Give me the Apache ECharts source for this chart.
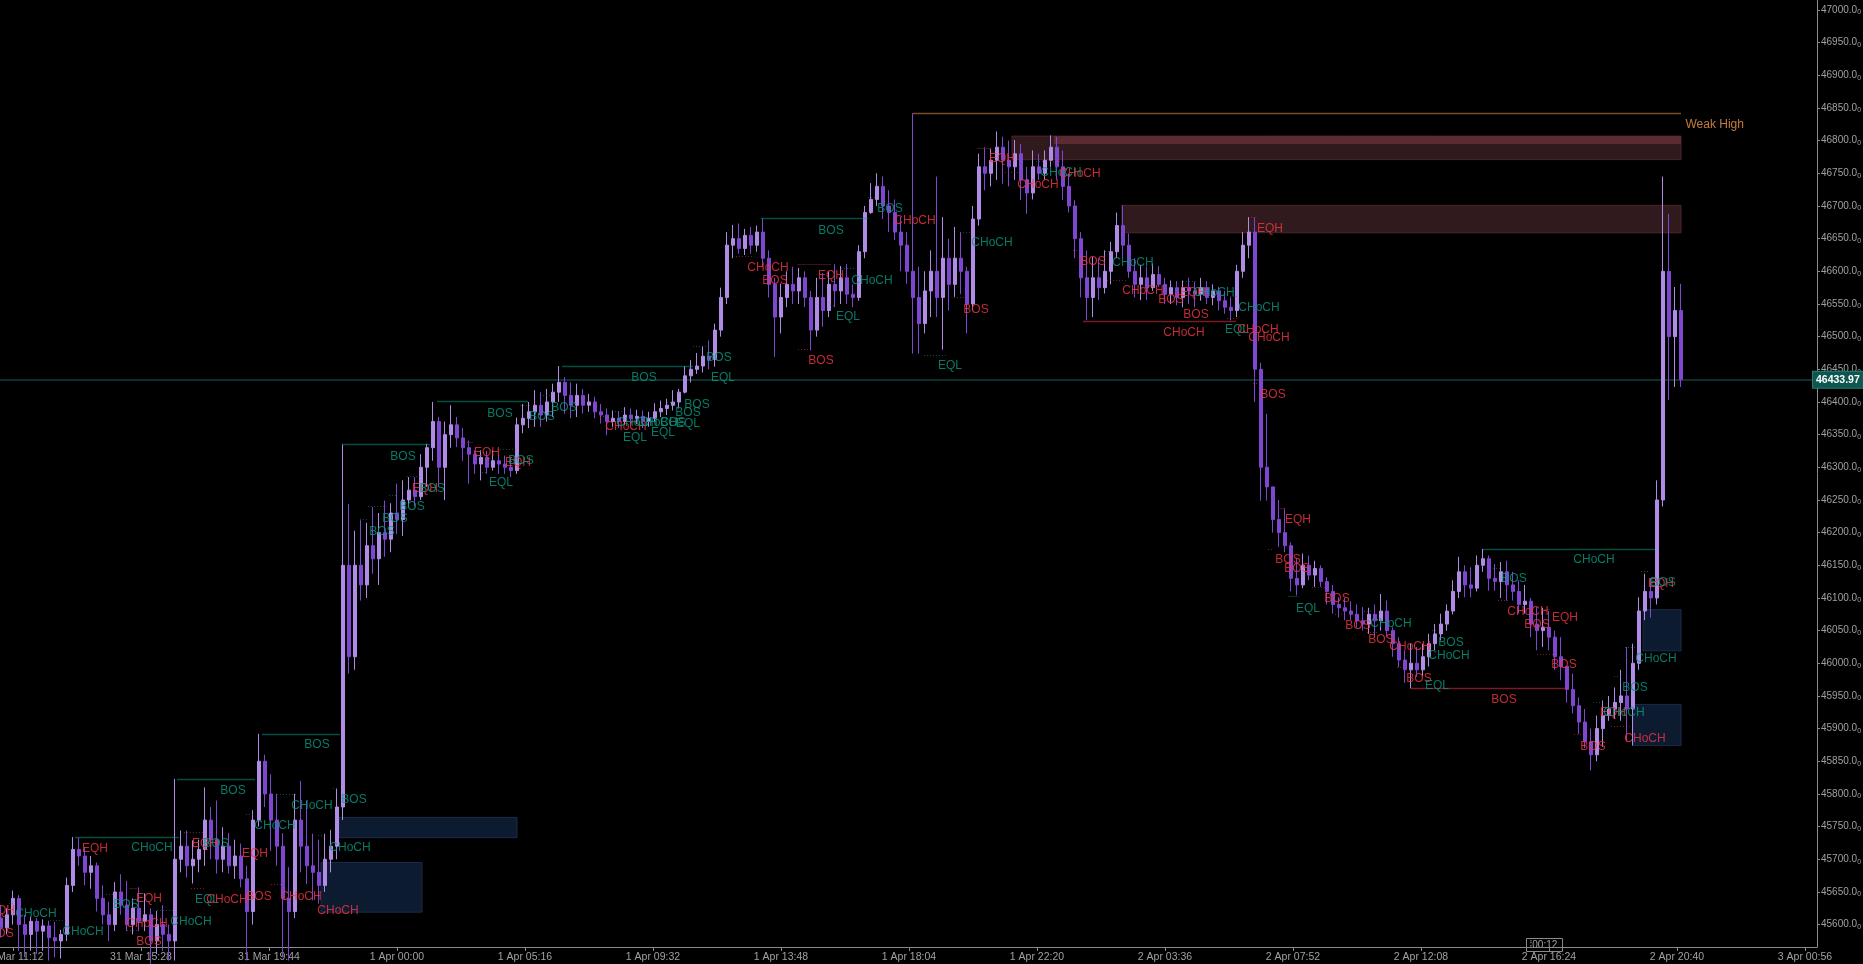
<!DOCTYPE html>
<html><head><meta charset="utf-8">
<script src="https://cdn.jsdelivr.net/npm/echarts@6/dist/echarts.min.js"></script>
<style>html,body{margin:0;padding:0;background:#000;}#c{width:1863px;height:964px;}</style>
</head><body><div id="c"></div>
<script>
// ---------- DATA ----------
const timeTickLabels = ['31 Mar 11:12','31 Mar 15:28','31 Mar 19:44','1 Apr 00:00','1 Apr 05:16','1 Apr 09:32','1 Apr 13:48','1 Apr 18:04','1 Apr 22:20','2 Apr 03:36','2 Apr 07:52','2 Apr 12:08','2 Apr 16:24','2 Apr 20:40','3 Apr 00:56'];
const timeTickStepMinutes = 256;           // minutes between time labels (from 31 Mar 11:12)
const priceTicks = [45600,45650,45700,45750,45800,45850,45900,45950,46000,46050,46100,46150,46200,46250,46300,46350,46400,46450,46500,46550,46600,46650,46700,46750,46800,46850,46900,46950,47000];
const barStartMinute = -24, barStepMinutes = 12; // bar times in minutes from 31 Mar 11:12
const lastPrice = 46433.97;
// candles: [open, close, low, high]
const candles = [
[45610,45595,45580,45630],[45595,45615,45585,45625],[45615,45640,45600,45652],[45640,45600,45560,45645],[45600,45585,45550,45615],
[45585,45605,45560,45612],[45605,45590,45555,45610],[45590,45598,45560,45608],[45598,45580,45545,45606],[45580,45575,45550,45604],
[45575,45585,45548,45592],[45585,45660,45575,45672],[45660,45715,45650,45734],[45715,45705,45690,45733],[45705,45680,45660,45718],
[45680,45690,45655,45705],[45690,45640,45620,45695],[45640,45615,45600,45660],[45615,45600,45575,45635],[45600,45650,45590,45665],
[45650,45630,45615,45677],[45630,45600,45590,45667],[45600,45625,45585,45640],[45625,45605,45590,45657],[45605,45615,45590,45648],
[45615,45575,45540,45625],[45575,45600,45555,45621],[45600,45585,45560,45630],[45585,45575,45545,45600],[45575,45700,45545,45823],
[45700,45720,45680,45744],[45720,45690,45672,45744],[45690,45700,45663,45729],[45700,45715,45680,45730],[45715,45760,45690,45810],
[45760,45730,45700,45780],[45730,45700,45678,45790],[45700,45720,45680,45749],[45720,45690,45678,45740],[45690,45705,45670,45730],
[45705,45670,45657,45724],[45670,45620,45545,45690],[45620,45760,45600,45775],[45760,45850,45750,45892],[45850,45800,45780,45860],
[45800,45760,45713,45830],[45760,45720,45690,45800],[45720,45640,45550,45740],[45640,45620,45545,45688],[45620,45760,45610,45800],
[45760,45720,45680,45820],[45720,45690,45662,45790],[45690,45680,45637,45739],[45680,45660,45632,45730],[45660,45700,45650,45739],
[45700,45720,45680,45745],[45720,45780,45700,45808],[45780,46150,45760,46335],[46150,46010,45984,46244],[46010,46150,45990,46203],
[46150,46120,46096,46219],[46120,46180,46100,46215],[46180,46160,46137,46239],[46160,46200,46120,46230],[46200,46190,46163,46249],
[46190,46230,46170,46245],[46230,46220,46198,46275],[46220,46250,46195,46280],[46250,46265,46239,46285],[46265,46255,46240,46285],
[46255,46300,46250,46320],[46300,46330,46270,46336],[46330,46370,46310,46400],[46370,46300,46270,46377],[46300,46350,46250,46370],
[46350,46365,46330,46395],[46365,46345,46331,46377],[46345,46330,46310,46360],[46330,46320,46275,46341],[46320,46305,46290,46326],
[46305,46315,46280,46326],[46315,46300,46290,46325],[46300,46310,46295,46326],[46310,46305,46290,46320],[46305,46300,46290,46318],
[46300,46295,46285,46315],[46295,46365,46290,46376],[46365,46375,46352,46397],[46375,46385,46360,46400],[46385,46395,46362,46418],
[46395,46380,46362,46415],[46380,46400,46370,46420],[46400,46415,46377,46428],[46415,46430,46400,46455],[46430,46410,46382,46438],
[46410,46395,46375,46430],[46395,46410,46377,46428],[46410,46395,46382,46420],[46395,46400,46385,46412],[46400,46385,46375,46408],
[46385,46380,46367,46397],[46380,46370,46349,46390],[46370,46375,46362,46387],[46375,46370,46360,46386],[46370,46380,46365,46392],
[46380,46375,46365,46390],[46375,46378,46366,46388],[46378,46370,46360,46387],[46370,46375,46362,46385],[46375,46385,46370,46398],
[46385,46390,46377,46402],[46390,46395,46380,46405],[46395,46400,46387,46418],[46400,46415,46390,46420],[46415,46440,46413,46455],
[46440,46450,46430,46464],[46450,46455,46443,46475],[46455,46470,46445,46485],[46470,46465,46450,46494],[46465,46510,46454,46520],
[46510,46560,46500,46575],[46560,46640,46550,46660],[46640,46650,46620,46671],[46650,46635,46627,46673],[46635,46655,46625,46665],
[46655,46640,46627,46668],[46640,46660,46630,46670],[46660,46620,46607,46681],[46620,46580,46560,46632],[46580,46530,46469,46590],
[46530,46560,46505,46581],[46560,46580,46545,46600],[46580,46570,46550,46607],[46570,46590,46550,46605],[46590,46560,46545,46600],
[46560,46510,46479,46570],[46510,46560,46500,46590],[46560,46540,46515,46597],[46540,46580,46530,46600],[46580,46570,46545,46611],
[46570,46590,46550,46608],[46590,46565,46550,46611],[46565,46560,46545,46580],[46560,46630,46555,46640],[46630,46690,46620,46700],
[46690,46710,46688,46735],[46710,46730,46700,46750],[46730,46700,46680,46745],[46700,46690,46660,46724],[46690,46660,46648,46710],
[46660,46640,46600,46683],[46640,46600,46581,46660],[46600,46560,46474,46842],[46560,46520,46474,46607],[46520,46570,46505,46600],
[46570,46600,46530,46632],[46600,46560,46530,46745],[46560,46620,46480,46683],[46620,46580,46540,46650],[46580,46620,46561,46668],
[46620,46600,46565,46660],[46600,46550,46505,46607],[46550,46680,46540,46700],[46680,46760,46670,46780],[46760,46750,46724,46790],
[46750,46770,46730,46788],[46770,46790,46740,46814],[46790,46770,46734,46806],[46770,46760,46730,46800],[46760,46780,46740,46801],
[46780,46740,46709,46795],[46740,46720,46688,46760],[46720,46760,46710,46785],[46760,46750,46740,46780],[46750,46770,46740,46785],
[46770,46790,46760,46808],[46790,46760,46740,46806],[46760,46730,46709,46785],[46730,46700,46690,46750],[46700,46650,46620,46709],
[46650,46590,46560,46660],[46590,46560,46525,46632],[46560,46590,46530,46622],[46590,46575,46556,46620],[46575,46600,46566,46632],
[46600,46630,46580,46645],[46630,46670,46620,46690],[46670,46640,46620,46701],[46640,46600,46590,46658],[46600,46580,46560,46620],
[46580,46590,46556,46610],[46590,46575,46556,46607],[46575,46595,46570,46612],[46595,46580,46576,46608],[46580,46565,46550,46590],
[46565,46575,46550,46586],[46575,46560,46548,46585],[46560,46575,46545,46586],[46575,46570,46550,46590],[46570,46565,46545,46584],
[46565,46575,46555,46590],[46575,46560,46550,46585],[46560,46570,46548,46580],[46570,46555,46540,46576],[46555,46545,46535,46570],
[46545,46540,46525,46560],[46540,46600,46530,46610],[46600,46640,46590,46660],[46640,46660,46620,46683],[46660,46450,46400,46683],
[46450,46300,46249,46460],[46300,46270,46249,46382],[46270,46220,46200,46265],[46220,46200,46178,46250],[46200,46180,46170,46237],
[46180,46130,46110,46185],[46130,46120,46104,46160],[46120,46150,46115,46168],[46150,46135,46127,46165],[46135,46145,46117,46157],
[46145,46125,46117,46150],[46125,46110,46090,46132],[46110,46090,46076,46120],[46090,46085,46070,46101],[46085,46080,46066,46100],
[46080,46075,46066,46095],[46075,46065,46055,46090],[46065,46060,46050,46086],[46060,46075,46045,46085],[46075,46065,46040,46090],
[46065,46080,46050,46106],[46080,46050,46040,46096],[46050,46030,46010,46055],[46030,46005,45994,46040],[46005,45990,45970,46020],
[45990,46000,45962,46030],[46000,45990,45979,46025],[45990,46010,45980,46030],[46010,46030,45995,46045],[46030,46045,46020,46060],
[46045,46060,46035,46076],[46060,46080,46050,46090],[46080,46110,46075,46127],[46110,46140,46100,46163],[46140,46120,46101,46150],
[46120,46115,46101,46147],[46115,46150,46110,46165],[46150,46160,46140,46175],[46160,46130,46111,46165],[46130,46125,46111,46152],
[46125,46140,46100,46155],[46140,46120,46096,46157],[46120,46110,46096,46140],[46110,46090,46076,46127],[46090,46095,46076,46120],
[46095,46060,46040,46100],[46060,46050,46020,46086],[46050,46055,46025,46085],[46055,46040,46020,46080],[46040,46010,45990,46050],
[46010,45995,45974,46040],[45995,45960,45940,45995],[45960,45935,45923,45984],[45935,45910,45892,45948],[45910,45880,45870,45930],
[45880,45860,45836,45900],[45860,45900,45850,45920],[45900,45920,45872,45943],[45920,45930,45912,45950],[45930,45940,45915,45963],
[45940,45950,45912,45990],[45950,45930,45880,46025],[45930,46000,45874,46030],[46000,46080,45990,46101],[46080,46110,46066,46137],
[46110,46100,46070,46130],[46100,46250,46090,46280],[46250,46600,46240,46745],[46600,46500,46403,46688],[46500,46540,46423,46576],
[46540,46434,46423,46581]
];
// swing structure lines: [fromMinute, toMinute, price, side]
const swingLines = [
[124,332,45734,'bull'],[328,484,45823,'bull'],[498,654,45892,'bull'],[658,834,46335,'bull'],
[848,1030,46401,'bull'],[1098,1360,46455,'bull'],[1496,1710,46681,'bull'],[2940,3284,46175,'bull'],
[2140,2446,46524,'bear'],[2794,3106,45962,'bear']
];
const weakHigh = [1800,3336,46842];
// internal structure / equal highs-lows: [fromMinute, toMinute, price, kind]
const internalLines = [
[-8,2,45633,'bull'],[74,106,45606,'bull'],[186,202,45647,'bull'],[288,324,45622,'bull'],[466,484,45769,'bull'],
[528,570,45800,'bull'],[610,628,45736,'bull'],[640,652,45808,'bull'],[694,710,46220,'bull'],[710,750,46240,'bull'],
[752,770,46257,'bull'],[788,818,46286,'bull'],[968,1008,46327,'bull'],[938,950,46293,'bull'],[1014,1034,46395,'bull'],
[1060,1074,46410,'bull'],[1204,1220,46386,'bull'],[1280,1298,46386,'bull'],[1308,1324,46400,'bull'],[1328,1338,46413,'bull'],
[1360,1396,46485,'bull'],[1710,1728,46713,'bull'],[1634,1646,46548,'bull'],[1656,1682,46604,'bull'],[1822,1866,46472,'bull'],
[1900,1914,46660,'bull'],[2046,2060,46768,'bull'],[2184,2200,46630,'bull'],[2340,2368,46585,'bull'],[2434,2450,46562,'bull'],
[2702,2716,46079,'bull'],[2838,2848,46050,'bull'],[2954,2978,46146,'bull'],[3160,3182,45941,'bull'],[3202,3220,45980,'bull'],
[3224,3244,46024,'bull'],[3256,3272,46141,'bull'],
[228,248,45591,'bear'],[342,382,45742,'bear'],[356,384,45656,'bear'],[516,538,45661,'bear'],[1174,1188,46378,'bear'],
[1446,1478,46623,'bear'],[1570,1600,46480,'bear'],[1882,1902,46560,'bear'],[1984,2016,46751,'bear'],[2074,2096,46768,'bear'],
[2120,2130,46632,'bear'],[2188,2230,46587,'bear'],[2428,2448,46528,'bear'],[2480,2490,46428,'bear'],[2510,2522,46175,'bear'],
[2598,2632,46116,'bear'],[2644,2668,46075,'bear'],[2708,2728,46048,'bear'],[2768,2788,45994,'bear'],[2970,2994,46096,'bear'],
[3048,3090,46014,'bear'],[3122,3138,45891,'bear'],[3196,3236,45903,'bear'],
[232,248,45656,'eqh'],[908,920,46339,'eqh'],[1568,1636,46611,'eqh'],[1928,1956,46788,'eqh'],[2474,2488,46683,'eqh'],
[2530,2542,46237,'eqh'],[3062,3074,46083,'eqh'],[2550,2570,46103,'eql']
];
// order-block zones: [fromMinute, toMinute, top, bottom, kind]
const zones = [
[652,1008,45764,45733,'demand'],[616,818,45695,45619,'demand'],
[1998,3336,46807,46771,'supply'],[2082,3336,46807,46795,'supplyStrong'],[2218,3336,46701,46659,'supply'],
[3260,3336,46082,46019,'demand'],[3240,3336,45937,45874,'demand']
];
// structure labels: [minute, price, text, side]
const structureLabels = [
[164,45716,'EQH','bear'],[278,45717,'CHoCH','bull'],[-22,45621,'EQH','bear'],[46,45616,'CHoCH','bull'],[-24,45586,'BOS','bear'],
[140,45589,'CHoCH','bull'],[226,45631,'BOS','bull'],[272,45639,'EQH','bear'],[268,45601,'CHoCH','bear'],[272,45574,'BOS','bear'],
[356,45605,'CHoCH','bull'],[440,45805,'BOS','bull'],[384,45724,'EQH','bear'],[406,45724,'BOS','bull'],[484,45709,'EQH','bear'],
[524,45752,'CHoCH','bull'],[388,45638,'EQL','bull'],[428,45638,'CHoCH','bear'],[492,45642,'BOS','bear'],[576,45643,'CHoCH','bear'],
[608,45875,'BOS','bull'],[598,45782,'CHoCH','bull'],[682,45791,'BOS','bull'],[674,45718,'CHoCH','bull'],[650,45622,'CHoCH','bear'],
[780,46317,'BOS','bull'],[974,46382,'BOS','bull'],[1262,46437,'BOS','bull'],[1420,46437,'EQL','bull'],[1412,46468,'BOS','bull'],
[948,46322,'EQH','bear'],[976,46276,'EQL','bull'],[1010,46307,'EQH','bear'],[1016,46310,'BOS','bull'],[824,46268,'EQH','bear'],
[838,46268,'BOS','bull'],[798,46239,'BOS','bull'],[764,46222,'BOS','bull'],[738,46202,'BOS','bull'],[1058,46377,'BOS','bull'],
[1102,46392,'BOS','bull'],[1226,46362,'CHoCH','bear'],[1248,46369,'CHoCH','bull'],[1244,46345,'EQL','bull'],[1288,46369,'CHoCH','bull'],
[1320,46369,'BOS','bull'],[1300,46353,'EQL','bull'],[1350,46383,'BOS','bull'],[1350,46367,'EQL','bull'],[1368,46396,'BOS','bull'],
[1636,46662,'BOS','bull'],[1510,46606,'CHoCH','bear'],[1524,46586,'BOS','bear'],[1636,46593,'EQH','bear'],[1718,46586,'CHoCH','bull'],
[1670,46530,'EQL','bull'],[1616,46463,'BOS','bear'],[1754,46696,'BOS','bull'],[1804,46677,'CHoCH','bear'],[1874,46455,'EQL','bull'],
[1958,46644,'CHoCH','bull'],[1926,46542,'BOS','bear'],[1978,46772,'EQH','bear'],[2050,46732,'CHoCH','bear'],[2096,46751,'CHoCH','bull'],
[2134,46750,'CHoCH','bear'],[2160,46614,'BOS','bear'],[2240,46613,'CHoCH','bull'],[2260,46570,'CHoCH','bear'],[2316,46556,'BOS','bear'],
[2360,46567,'EQH','bear'],[2402,46568,'CHoCH','bull'],[2366,46534,'BOS','bear'],[2342,46506,'CHoCH','bear'],[2492,46544,'CHoCH','bull'],
[2448,46511,'EQL','bull'],[2490,46511,'CHoCH','bear'],[2512,46498,'CHoCH','bear'],[2514,46666,'EQH','bear'],[2520,46411,'BOS','bear'],
[2570,46220,'EQH','bear'],[2550,46158,'BOS','bear'],[2568,46145,'BOS','bear'],[2590,46084,'EQL','bull'],[2648,46099,'BOS','bear'],
[2690,46057,'BOS','bear'],[2756,46060,'CHoCH','bull'],[2736,46036,'BOS','bear'],[2794,46026,'CHoCH','bear'],[2876,46032,'BOS','bull'],
[2872,46011,'CHoCH','bull'],[2812,45976,'BOS','bear'],[2848,45965,'EQL','bull'],[2982,45945,'BOS','bear'],[3162,46158,'CHoCH','bull'],
[3002,46129,'BOS','bull'],[3030,46079,'CHoCH','bear'],[3048,46059,'BOS','bear'],[3104,46070,'EQH','bear'],[3102,45998,'BOS','bear'],
[3160,45873,'BOS','bear'],[3200,45924,'EQH','bear'],[3222,45924,'CHoCH','bull'],[3244,45963,'BOS','bull'],[3286,46007,'CHoCH','bull'],
[3264,45884,'CHoCH','bear'],[3296,46122,'EQH','bear'],[3300,46123,'BOS','bull']
];

// ---------- STYLE ----------
const TEAL = '#089981', RED = '#F23645', ORANGE = '#F29B4B';
const FONT = "'Liberation Sans', Arial, sans-serif";
const lineColor = {bull: TEAL, bear: RED, eqh: '#7d1f2c', eql: '#0b5c50'};
const zoneStyle = {
  demand: {color: '#0d1b31', borderColor: '#1c2b47', borderWidth: 1},
  supply: {color: '#311a1d', borderColor: '#4b2529', borderWidth: 1},
  supplyStrong: {color: '#5a2c32', borderColor: '#5a2c32', borderWidth: 0}
};

const candleData = candles.map((c, i) => [barStartMinute + i * barStepMinutes, c[0], c[1], c[2], c[3]]);

const lineItems = [];
swingLines.forEach(([a, b, p, s]) => lineItems.push({coords: [[a, p], [b, p]], lineStyle: {color: lineColor[s], width: 1.4, type: 'solid'}}));
lineItems.push({coords: [[weakHigh[0], weakHigh[2]], [weakHigh[1], weakHigh[2]]], lineStyle: {color: ORANGE, width: 1.4, type: 'solid'}});
internalLines.forEach(([a, b, p, k]) => lineItems.push({coords: [[a, p], [b, p]], lineStyle: {color: lineColor[k], width: 1.2, type: (k === 'eqh' || k === 'eql') ? 'solid' : [1, 2]}}));

const labelItems = structureLabels.map(([m, p, t, s]) => ({value: [m, p], name: t, label: {color: s === 'bull' ? TEAL : RED}}));

const zoneAreas = zones.map(([a, b, top, bot, k]) => [
  {xAxis: a, yAxis: top, itemStyle: zoneStyle[k]},
  {xAxis: b, yAxis: bot}
]);

const chart = echarts.init(document.getElementById('c'), null, {renderer: 'canvas'});
chart.setOption({
  backgroundColor: '#000',
  animation: false,
  grid: {left: 0, right: 46, top: 0, bottom: 17, containLabel: false, outerBoundsMode: 'none'},
  xAxis: {
    type: 'value', min: -26, max: 3608, position: 'bottom',
    splitLine: {show: false},
    axisLine: {show: true, onZero: false, lineStyle: {color: '#8a8a8a', width: 1}},
    axisTick: {show: true, length: 4, lineStyle: {color: '#8a8a8a'}, customValues: timeTickLabels.map((_, i) => i * timeTickStepMinutes)},
    axisLabel: {
      color: '#a0a0a0', fontSize: 10.5, fontFamily: FONT, margin: 5,
      customValues: timeTickLabels.map((_, i) => i * timeTickStepMinutes),
      formatter: v => timeTickLabels[Math.round(v / timeTickStepMinutes)] || ''
    }
  },
  yAxis: {
    type: 'value', position: 'right', min: 45565.7, max: 47015.3, scale: true,
    splitLine: {show: false},
    axisLine: {show: true, onZero: false, lineStyle: {color: '#8a8a8a', width: 1}},
    axisTick: {show: true, length: 3, lineStyle: {color: '#8a8a8a'}, customValues: priceTicks},
    axisLabel: {
      customValues: priceTicks, margin: 4, color: '#a0a0a0', fontFamily: FONT, fontSize: 10,
      formatter: v => '{a|' + v.toFixed(1) + '}{b|0}',
      rich: {a: {color: '#a0a0a0', fontSize: 10, fontFamily: FONT}, b: {color: '#a0a0a0', fontSize: 7, fontFamily: FONT, padding: [5, 0, 0, 0]}}
    }
  },
  series: [
    {
      type: 'candlestick', name: 'price', z: 3,
      data: candleData,
      encode: {x: 0, y: [1, 2, 3, 4]},
      barWidth: 3,
      clip: true,
      itemStyle: {color: '#b18ce6', color0: '#7e46d1', borderColor: '#b18ce6', borderColor0: '#7e46d1', borderWidth: 1},
      markArea: {silent: true, z: 1, data: zoneAreas},
      markLine: {
        silent: true, symbol: ['none', 'none'], z: 2,
        lineStyle: {color: '#0e403c', width: 1.5, type: 'solid'},
        label: {
          show: true, position: 'end', distance: -4, formatter: () => lastPrice.toFixed(2),
          color: '#ffffff', fontWeight: 'bold', fontSize: 10.5, fontFamily: FONT,
          backgroundColor: '#0d5750', borderColor: '#2a7d73', borderWidth: 1, padding: [3, 3, 2, 3]
        },
        data: [{yAxis: lastPrice}]
      }
    },
    {
      type: 'lines', coordinateSystem: 'cartesian2d', z: 4, silent: true,
      polyline: false, effect: {show: false},
      data: lineItems
    },
    {
      type: 'scatter', z: 6, silent: true, symbolSize: 1,
      itemStyle: {color: 'rgba(0,0,0,0)'},
      label: {show: true, position: 'inside', formatter: '{b}', fontSize: 12, fontFamily: FONT},
      data: labelItems
    },
    {
      type: 'scatter', z: 6, silent: true, symbolSize: 1,
      itemStyle: {color: 'rgba(0,0,0,0)'},
      label: {show: true, position: 'right', distance: 4, formatter: '{b}', fontSize: 12, fontFamily: FONT, color: ORANGE},
      data: [{value: [weakHigh[1], 46825], name: 'Weak High'}]
    }
  ],
  graphic: [
    {type: 'group', left: 1526, top: 938, children: [
      {type: 'rect', shape: {x: 0, y: 0, width: 36, height: 13}, style: {fill: '#000', stroke: '#8a8a8a', lineWidth: 1}},
      {type: 'text', style: {x: 3, y: 2, text: '⁞00:12', fill: '#a0a0a0', fontSize: 10, fontFamily: FONT}}
    ]}
  ]
});
</script></body></html>
